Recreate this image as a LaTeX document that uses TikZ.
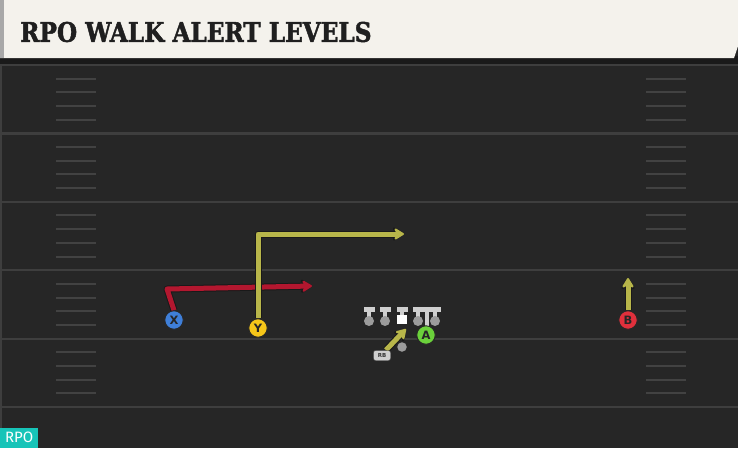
\documentclass[tikz,border=0pt]{standalone}
\usepackage{fontspec}
\setmainfont{DejaVu Sans}
\newfontfamily\titlefont{DejaVu Serif}[FakeBold=1.8]
\newfontfamily\badgefont{Fira Sans}
\usetikzlibrary{arrows.meta}
\definecolor{fieldbg}{HTML}{262626}
\definecolor{headshadow}{HTML}{1A1A1A}
\definecolor{cream}{HTML}{F4F2EC}
\definecolor{stripe}{HTML}{A8A8A8}
\definecolor{yardline}{HTML}{3E3E3E}
\definecolor{hashc}{HTML}{424242}
\definecolor{routeyel}{HTML}{B8B64A}
\definecolor{routered}{HTML}{B3172F}
\definecolor{pblue}{HTML}{3F7FD8}
\definecolor{pyellow}{HTML}{F6C619}
\definecolor{pgreen}{HTML}{6BD13B}
\definecolor{pred}{HTML}{E0303C}
\definecolor{olbar}{HTML}{CFCFCF}
\definecolor{oldot}{HTML}{9C9C9C}
\definecolor{teal}{HTML}{17C4B8}
\tikzset{
  yard/.style={draw=yardline, line width=2.2pt},
  hashmark/.style={draw=hashc, line width=2pt},
  player/.style={circle, draw=black!85, line width=0.9pt, minimum size=18.5pt, inner sep=0pt,
    font=\bfseries\fontsize{11.5}{11.5}\selectfont, text=black!85},
  routeunder/.style={draw=black!90, line width=7pt, line join=round,
    -{Stealth[length=14pt,width=17pt,inset=4.5pt,round]}},
  routeY/.style={draw=routeyel, line width=5pt, line join=round,
    -{Stealth[length=12pt,width=14.5pt,inset=4pt,round]}},
  routeR/.style={draw=routered, line width=5pt, line join=round,
    -{Stealth[length=12pt,width=14.5pt,inset=4pt,round]}},
  rbtag/.style={draw=black!85, fill=olbar, rounded corners=2pt, inner sep=0pt, minimum width=17pt,
    minimum height=10pt, font=\bfseries\fontsize{5.5}{5.5}\selectfont, text=black!80},
}
\begin{document}
\begin{tikzpicture}[x=1pt,y=-1pt]
\useasboundingbox (0,0) rectangle (738,448);
\fill[fieldbg] (0,0) rectangle (738,448);
% header
\fill[headshadow] (0,56) rectangle (738,64);
\fill[cream] (0,0) -- (738,0) -- (738,46) -- (734,58) -- (0,58) -- cycle;
\fill[stripe] (0,0) rectangle (4,58);
\node[anchor=west, inner sep=0pt, text=black!88] (title) at (20,32)
  {\scalebox{0.86}[1]{\titlefont\bfseries\fontsize{27}{27}\selectfont RPO WALK ALERT LEVELS}};
% left edge line
\draw[draw=yardline, line width=1.2pt] (1,64) -- (1,448);
% yard lines
\foreach \y in {65,133.4,201.8,270.2,338.6,407} {\draw[yard] (0,\y) -- (738,\y);}
% hash marks
\foreach \b in {65,133.4,201.8,270.2,338.6} {
  \foreach \k in {1,2,3,4} {
    \draw[hashmark] (56,\b+\k*13.68) -- (96,\b+\k*13.68);
    \draw[hashmark] (646,\b+\k*13.68) -- (686,\b+\k*13.68);
  }
}
% players
\node[player, fill=pblue] (X) at (174,320) {X};
\node[player, fill=pyellow] (Y) at (258,328) {Y};
\node[player, fill=pgreen] (A) at (426,335) {A};
\node[player, fill=pred] (B) at (628,320) {B};
% route coordinates
\coordinate (xbend) at (167,289);
\coordinate (xend) at (312,286);
\coordinate (ybend) at (258,234);
\coordinate (yend) at (404,234);
\coordinate (bend) at (628,278);
% routes (outline then colour)
\draw[routeunder] (X.north) -- (xbend) -- (xend);
\draw[routeR] (X.north) -- (xbend) -- (xend);
\draw[routeunder] (Y.north) -- (ybend) -- (yend);
\draw[routeY] (Y.north) -- (ybend) -- (yend);
\draw[routeunder] (B.north) -- (bend);
\draw[routeY] (B.north) -- (bend);
% redraw players on top
\node[player, fill=pblue] at (X) {X};
\node[player, fill=pyellow] at (Y) {Y};
\node[player, fill=pred] at (B) {B};
% offensive line
\foreach \x in {369,385,418,435} {
  \fill[olbar] (\x-5.5,306.5) rectangle (\x+5.5,312);
  \fill[olbar] (\x-2.2,311.5) rectangle (\x+2.2,318);
  \fill[oldot] (\x,321) circle (5);
}
\fill[olbar] (402-5.5,306.5) rectangle (402+5.5,312);
\fill[olbar] (402-2.2,311.5) rectangle (402+2.2,315);
\fill[white] (397,314.5) rectangle (406.5,323.5);
\fill[olbar] (427-5.5,306.5) rectangle (427+5.5,312);
\fill[olbar] (427-2.2,311.5) rectangle (427+2.2,328);
\node[player, fill=pgreen] at (A) {A};
% QB dot
\node[circle, fill=oldot, inner sep=0pt, minimum size=9.5pt] (qb) at (402,347) {};
% RB
\node[rbtag] (rb) at (382,355.5) {RB};
\coordinate (rbstart) at (386,350);
\coordinate (rbend) at (406,329);
\draw[routeunder] (rbstart) -- (rbend);
\draw[routeY] (rbstart) -- (rbend);
\node[rbtag] at (rb) {RB};
% badge
\node[fill=teal, anchor=south west, inner sep=0pt, minimum width=38pt, minimum height=20pt,
  text=white, font=\badgefont\fontsize{15}{15}\selectfont] (badge) at (0,448) {RPO};
\end{tikzpicture}
\end{document}
